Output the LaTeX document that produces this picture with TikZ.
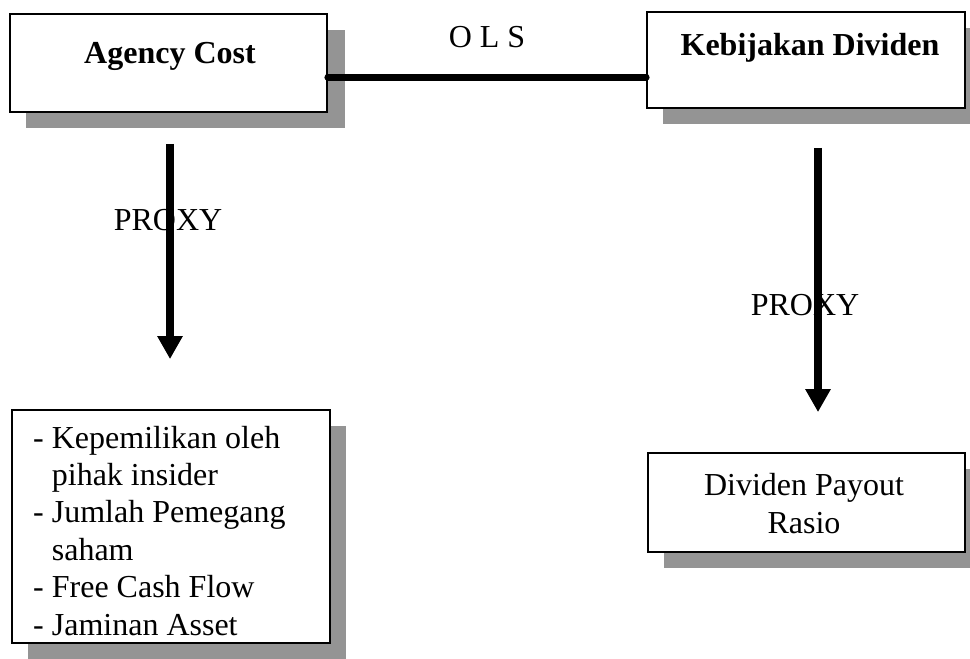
\documentclass[tikz,border=0pt]{standalone}
\usepackage{fontspec}
\setmainfont{Liberation Serif}
\usetikzlibrary{arrows.meta,calc}
\begin{document}
\begin{tikzpicture}[x=1pt,y=-1pt,
  box/.style={draw=black,line width=1.8pt,fill=white,inner sep=0pt},
  shade/.style={fill=black!42,draw=none},
  lbl/.style={font=\fontsize{32}{38}\selectfont,inner sep=0pt,anchor=base},
  bold/.style={font=\fontsize{32}{38}\selectfont\bfseries,inner sep=0pt,anchor=base},
  bigarrow/.style={line width=8pt,-{Triangle[width=24pt,length=23pt]}},
  olsline/.style={line width=7pt,line cap=round}]
\useasboundingbox (0,0) rectangle (970,659);
\fill[white] (0,0) rectangle (970,659);
% shadows
\fill[shade] (26,30) rectangle (345,128);
\fill[shade] (663,28) rectangle (980,124);
\fill[shade] (28,426) rectangle (346,662);
\fill[shade] (664,469) rectangle (980,568);
% boxes
\node[box,minimum width=317pt,minimum height=98pt] (A) at (168.5,63) {};
\node[box,minimum width=318pt,minimum height=96pt] (K) at (806,60) {};
\node[box,minimum width=318pt,minimum height=233pt] (L) at (171,526.5) {};
\node[box,minimum width=317pt,minimum height=99pt] (R) at (806.5,502.5) {};
% texts
\node[bold] (tA) at (170,63) {Agency Cost};
\node[bold] (tK) at (810,55) {Kebijakan Dividen};
\node[lbl] (ols) at (487,47) {O L S};
\node[lbl] (p1) at (168,230) {PROXY};
\node[lbl] (p2) at (805,315) {PROXY};
\node[inner sep=0pt,anchor=base west,font=\fontsize{32}{37.4}\selectfont] (tL) at (33,448)
  {\begin{tabular}[t]{@{}l@{\hspace{8pt}}l@{}}
   - & Kepemilikan oleh\\
     & pihak insider\\
   - & Jumlah Pemegang\\
     & saham\\
   - & Free Cash Flow\\
   - & Jaminan Asset
   \end{tabular}};
\node[inner sep=0pt,anchor=base,font=\fontsize{32}{38}\selectfont] (tR) at (804,495)
  {\begin{tabular}[t]{@{}c@{}}Dividen Payout\\ Rasio\end{tabular}};
% connectors
\draw[olsline] (A.east |- 0,77) -- (K.west |- 0,77);
\draw[bigarrow,shorten <=31pt,shorten >=50pt] ([xshift=1.5pt]A.south) -- ([xshift=-1pt]L.north);
\draw[bigarrow,shorten <=39pt,shorten >=40pt] ([xshift=12pt]K.south) -- ([xshift=11.5pt]R.north);
\end{tikzpicture}
\end{document}
